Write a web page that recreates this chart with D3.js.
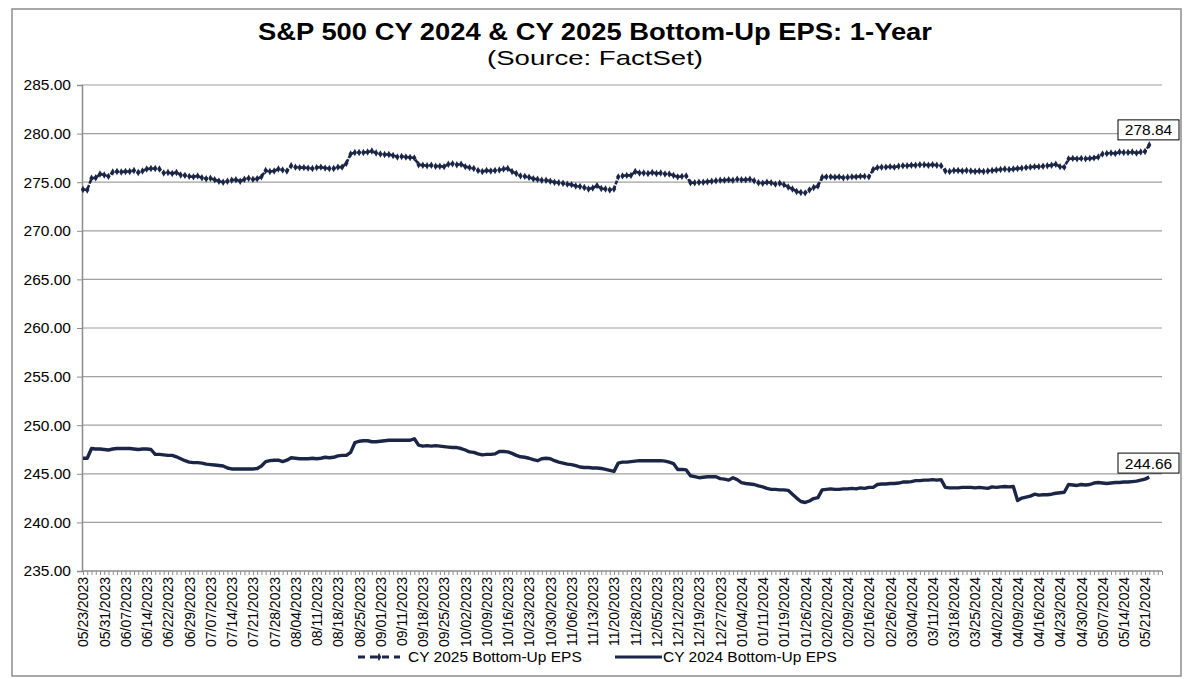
<!DOCTYPE html>
<html>
<head>
<meta charset="utf-8">
<script src="https://d3js.org/d3.v7.min.js"></script>
<style>
body { margin: 0; background: #fff; }
text { font-family: "Liberation Sans", Arial, sans-serif; fill: #000; }
</style>
</head>
<body>
<svg id="chart" width="1190" height="679"></svg>
<script>
// weekly category labels (every 5th trading day)
var tickLabels = [
  "05/23/2023","05/31/2023","06/07/2023","06/14/2023","06/22/2023","06/29/2023","07/07/2023",
  "07/14/2023","07/21/2023","07/28/2023","08/04/2023","08/11/2023","08/18/2023","08/25/2023",
  "09/01/2023","09/11/2023","09/18/2023","09/25/2023","10/02/2023","10/09/2023","10/16/2023",
  "10/23/2023","10/30/2023","11/06/2023","11/13/2023","11/20/2023","11/28/2023","12/05/2023",
  "12/12/2023","12/19/2023","12/27/2023","01/04/2024","01/11/2024","01/19/2024","01/26/2024",
  "02/02/2024","02/09/2024","02/16/2024","02/26/2024","03/04/2024","03/11/2024","03/18/2024",
  "03/25/2024","04/02/2024","04/09/2024","04/16/2024","04/23/2024","04/30/2024","05/07/2024",
  "05/14/2024","05/21/2024"
];

// CY 2025 bottom-up EPS, one value per trading day
var cy2025 = [
  274.25,274.20,275.40,275.45,275.85,275.75,275.60,276.05,276.10,276.05,
  276.10,276.10,276.20,276.00,276.15,276.35,276.40,276.40,276.35,275.95,
  276.00,275.90,276.00,275.75,275.70,275.60,275.55,275.65,275.45,275.35,
  275.40,275.25,275.10,275.00,275.10,275.20,275.25,275.10,275.30,275.40,
  275.30,275.35,275.55,276.20,276.10,276.15,276.35,276.25,276.15,276.70,
  276.55,276.50,276.50,276.45,276.40,276.50,276.55,276.45,276.40,276.40,
  276.55,276.55,276.95,277.90,278.05,278.05,278.05,278.10,278.20,278.00,
  277.90,277.85,277.85,277.75,277.60,277.65,277.60,277.55,277.50,276.80,
  276.75,276.70,276.75,276.65,276.65,276.60,276.85,276.90,276.80,276.85,
  276.60,276.50,276.40,276.20,276.10,276.20,276.15,276.20,276.25,276.35,
  276.40,276.10,275.90,275.65,275.60,275.50,275.35,275.30,275.20,275.20,
  275.10,275.00,274.95,274.90,274.80,274.75,274.60,274.55,274.45,274.30,
  274.40,274.65,274.35,274.30,274.20,274.30,275.55,275.65,275.70,275.70,
  276.10,275.95,275.95,275.90,276.00,275.90,275.95,275.85,275.85,275.70,
  275.55,275.60,275.65,274.95,274.95,275.00,275.00,275.05,275.10,275.15,
  275.20,275.20,275.25,275.20,275.30,275.25,275.25,275.30,275.15,274.95,
  274.90,275.00,274.95,274.80,274.90,274.75,274.50,274.30,274.05,273.95,
  273.90,274.20,274.45,274.60,275.50,275.55,275.55,275.50,275.55,275.45,
  275.50,275.55,275.55,275.60,275.60,275.55,276.30,276.50,276.55,276.55,
  276.60,276.55,276.65,276.70,276.70,276.75,276.75,276.80,276.80,276.75,
  276.80,276.75,276.70,276.15,276.10,276.20,276.20,276.15,276.20,276.15,
  276.10,276.15,276.10,276.15,276.20,276.25,276.30,276.35,276.30,276.35,
  276.40,276.45,276.50,276.55,276.60,276.60,276.65,276.70,276.75,276.85,
  276.60,276.55,277.40,277.45,277.40,277.45,277.40,277.45,277.50,277.60,
  277.90,277.95,278.00,277.95,278.10,278.05,278.05,278.10,278.00,278.10,
  278.15,278.84
];

// CY 2024 bottom-up EPS, one value per trading day
var cy2024 = [
  246.60,246.60,247.60,247.55,247.55,247.50,247.45,247.55,247.60,247.60,
  247.60,247.60,247.55,247.50,247.55,247.55,247.50,247.00,247.00,246.95,
  246.90,246.90,246.75,246.55,246.35,246.20,246.15,246.15,246.10,246.00,
  245.95,245.90,245.85,245.80,245.60,245.50,245.50,245.50,245.50,245.50,
  245.50,245.55,245.80,246.25,246.35,246.40,246.40,246.25,246.40,246.65,
  246.60,246.55,246.55,246.55,246.60,246.55,246.60,246.70,246.65,246.70,
  246.85,246.90,246.90,247.20,248.20,248.35,248.40,248.40,248.30,248.30,
  248.35,248.40,248.45,248.45,248.45,248.45,248.45,248.45,248.60,247.95,
  247.85,247.90,247.85,247.90,247.85,247.80,247.75,247.70,247.70,247.60,
  247.45,247.25,247.20,247.05,246.95,247.00,247.00,247.05,247.30,247.30,
  247.25,247.10,246.90,246.75,246.70,246.60,246.45,246.35,246.55,246.60,
  246.55,246.35,246.20,246.10,246.00,245.95,245.85,245.70,245.65,245.65,
  245.60,245.60,245.55,245.45,245.35,245.25,246.10,246.20,246.20,246.25,
  246.30,246.35,246.35,246.35,246.35,246.35,246.35,246.30,246.20,246.05,
  245.45,245.45,245.40,244.80,244.70,244.60,244.65,244.70,244.70,244.70,
  244.50,244.45,244.35,244.60,244.40,244.10,244.00,243.95,243.90,243.75,
  243.65,243.50,243.40,243.40,243.35,243.35,243.30,242.90,242.50,242.15,
  242.05,242.20,242.45,242.55,243.35,243.40,243.45,243.40,243.40,243.45,
  243.45,243.50,243.45,243.55,243.50,243.60,243.60,243.90,243.95,243.95,
  244.00,244.00,244.05,244.15,244.15,244.20,244.30,244.30,244.35,244.35,
  244.40,244.35,244.40,243.60,243.55,243.55,243.55,243.60,243.60,243.60,
  243.55,243.60,243.55,243.50,243.65,243.60,243.65,243.70,243.65,243.70,
  242.25,242.50,242.60,242.70,242.90,242.80,242.85,242.85,242.90,243.00,
  243.05,243.10,243.90,243.85,243.80,243.90,243.85,243.90,244.05,244.10,
  244.05,244.00,244.05,244.10,244.10,244.15,244.15,244.20,244.25,244.35,
  244.45,244.66
];

var yTicks = [235, 240, 245, 250, 255, 260, 265, 270, 275, 280, 285];
var seriesNames = ["CY 2025 Bottom-Up EPS", "CY 2024 Bottom-Up EPS"];

var navy = "#1b2646";
var svg = d3.select("#chart");

// outer frame
svg.append("rect")
  .attr("x", 12).attr("y", 9)
  .attr("width", 1169).attr("height", 667)
  .attr("fill", "#fff")
  .attr("stroke", "#8c8c8c")
  .attr("stroke-width", 1.5);

// title (stretched to the width of the original)
svg.append("text")
  .attr("x", 258).attr("y", 40)
  .attr("textLength", 674)
  .attr("lengthAdjust", "spacingAndGlyphs")
  .style("font-size", "23px")
  .style("font-weight", "bold")
  .text("S&P 500 CY 2024 & CY 2025 Bottom-Up  EPS: 1-Year");

svg.append("text")
  .attr("x", 487).attr("y", 65)
  .attr("textLength", 216)
  .attr("lengthAdjust", "spacingAndGlyphs")
  .style("font-size", "21px")
  .text("(Source: FactSet)");

var x = d3.scaleLinear().domain([0, 254]).range([83, 1162]);
var y = d3.scaleLinear().domain([235, 285]).range([571, 85]);

// gridlines
svg.append("g")
  .selectAll("line")
  .data(yTicks.slice(1))
  .enter().append("line")
    .attr("x1", 82).attr("x2", 1162)
    .attr("y1", function(d) { return y(d); })
    .attr("y2", function(d) { return y(d); })
    .attr("stroke", "#a0a0a0")
    .attr("stroke-width", 1.2);

// y axis
var yAxis = d3.axisLeft(y)
  .tickValues(yTicks)
  .tickSize(5)
  .tickFormat(d3.format(".2f"));

var gy = svg.append("g")
  .attr("transform", "translate(82,0)")
  .call(yAxis);
gy.select(".domain").attr("stroke", "#8c8c8c").attr("stroke-width", 1.5);
gy.selectAll(".tick line").attr("stroke", "#8c8c8c");
gy.selectAll(".tick text")
  .attr("x", -11)
  .style("font-size", "15.5px")
  .style("font-family", "'Liberation Sans', Arial, sans-serif")
  .attr("fill", "#000");

// x axis: a tick at every trading day, a label every 5th
var allIdx = d3.range(cy2025.length + 3);
var xAxis = d3.axisBottom(x)
  .tickValues(allIdx)
  .tickSize(4)
  .tickFormat(function(d) { return d % 5 === 0 ? (tickLabels[d / 5] || "") : ""; });

var gx = svg.append("g")
  .attr("transform", "translate(0," + y(235) + ")")
  .call(xAxis);
gx.select(".domain").attr("stroke", "#8c8c8c").attr("stroke-width", 1.5).attr("d", "M82,0H1162");
gx.selectAll(".tick line").attr("stroke", "#8c8c8c");
gx.selectAll(".tick text")
  .attr("transform", "rotate(-90)")
  .attr("text-anchor", "end")
  .attr("x", -6)
  .attr("y", 0)
  .attr("dy", "0.35em")
  .style("font-size", "14px")
  .style("font-family", "'Liberation Sans', Arial, sans-serif")
  .attr("fill", "#000");

var line = d3.line()
  .x(function(d, i) { return x(i); })
  .y(function(d) { return y(d); });

// CY 2024 solid
svg.append("path")
  .datum(cy2024)
  .attr("d", line)
  .attr("fill", "none")
  .attr("stroke", navy)
  .attr("stroke-width", 3.4)
  .attr("stroke-linejoin", "round");

// CY 2025 dashed with small markers
svg.append("path")
  .datum(cy2025)
  .attr("d", line)
  .attr("fill", "none")
  .attr("stroke", navy)
  .attr("stroke-width", 2.6)
  .attr("stroke-dasharray", "4,1.5");

svg.append("g")
  .selectAll("path")
  .data(cy2025)
  .enter().append("path")
    .attr("transform", function(d, i) { return "translate(" + x(i) + "," + y(d) + ")"; })
    .attr("d", d3.symbol().type(d3.symbolDiamond).size(16))
    .attr("fill", navy);

// end value labels
function endLabel(series, boxY) {
  var v = series[series.length - 1];
  var g = svg.append("g").attr("transform", "translate(1118," + boxY + ")");
  g.append("rect")
    .attr("width", 61).attr("height", 20)
    .attr("fill", "#fff")
    .attr("stroke", "#000")
    .attr("stroke-width", 1);
  g.append("text")
    .attr("x", 30.5).attr("y", 15.5)
    .attr("text-anchor", "middle")
    .style("font-size", "15.5px")
    .text(d3.format(".2f")(v));
}
endLabel(cy2025, y(cy2025[cy2025.length - 1]) - 25);
endLabel(cy2024, y(cy2024[cy2024.length - 1]) - 24);

// legend
var lg = svg.append("g").attr("transform", "translate(0,657)");
lg.append("line")
  .attr("x1", 358).attr("x2", 400)
  .attr("stroke", navy).attr("stroke-width", 3)
  .attr("stroke-dasharray", "7,5");
lg.append("path")
  .attr("transform", "translate(379,0)")
  .attr("d", d3.symbol().type(d3.symbolDiamond).size(18))
  .attr("fill", navy);
lg.append("text")
  .attr("x", 408).attr("y", 5)
  .style("font-size", "15.5px")
  .text(seriesNames[0]);
lg.append("line")
  .attr("x1", 615).attr("x2", 662)
  .attr("stroke", navy).attr("stroke-width", 3);
lg.append("text")
  .attr("x", 663).attr("y", 5)
  .style("font-size", "15.5px")
  .text(seriesNames[1]);
</script>
</body>
</html>
